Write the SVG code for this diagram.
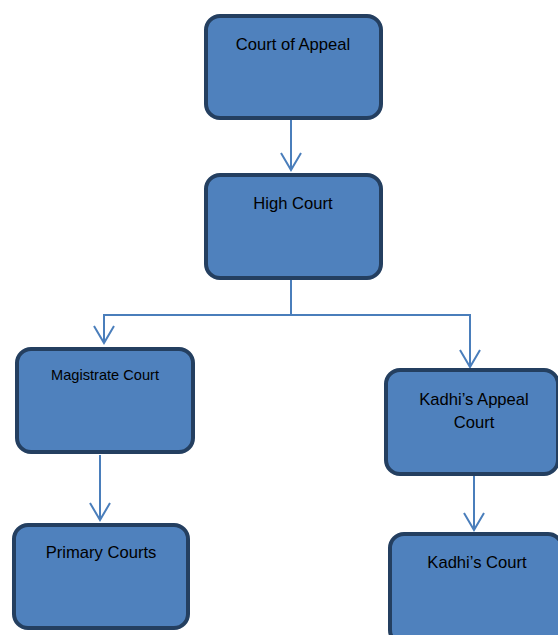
<svg xmlns="http://www.w3.org/2000/svg" width="558" height="635" viewBox="0 0 558 635">
<defs>
<style>
.box{fill:#4F81BD;stroke:#243F60;stroke-width:4}
.lbl{font-family:"Liberation Sans",Arial,sans-serif;font-size:16.6px;fill:#000;text-anchor:middle}
.sm{font-size:14.6px}
.con{fill:none;stroke:#4A7EBB;stroke-width:2}
</style>
</defs>
<rect width="558" height="635" fill="#fff"/>
<g id="connectors">
<path class="con" d="M291,120 L291,170"/>
<path class="con" d="M291,280 L291,315 L104,315 L104,343"/>
<path class="con" d="M291,315 L470,315 L470,367"/>
<path class="con" d="M100,455 L100,520"/>
<path class="con" d="M474,476 L474,530"/>
<path class="con" d="M281,153 L291,170 L301,153"/>
<path class="con" d="M94,326 L104,343 L114,326"/>
<path class="con" d="M460,350 L470,367 L480,350"/>
<path class="con" d="M90,503 L100,520 L110,503"/>
<path class="con" d="M464,513 L474,530 L484,513"/>
</g>
<g id="court-of-appeal">
<rect class="box" x="206" y="16" width="175" height="102" rx="14"/>
<text class="lbl" x="293" y="50">Court of Appeal</text>
</g>
<g id="high-court">
<rect class="box" x="206" y="175" width="175" height="103" rx="14"/>
<text class="lbl" x="293" y="209">High Court</text>
</g>
<g id="magistrate-court">
<rect class="box" x="17" y="349" width="176" height="103" rx="14"/>
<text class="lbl sm" x="105" y="380">Magistrate Court</text>
</g>
<g id="kadhis-appeal-court">
<rect class="box" x="386" y="370" width="172" height="104" rx="14"/>
<text class="lbl" x="474" y="405">Kadhi’s Appeal</text>
<text class="lbl" x="474" y="428">Court</text>
</g>
<g id="primary-courts">
<rect class="box" x="14" y="525" width="174" height="103" rx="14"/>
<text class="lbl" x="101" y="558">Primary Courts</text>
</g>
<g id="kadhis-court">
<rect class="box" x="390" y="534" width="172" height="110" rx="14"/>
<text class="lbl" x="477" y="568">Kadhi’s Court</text>
</g>
</svg>
